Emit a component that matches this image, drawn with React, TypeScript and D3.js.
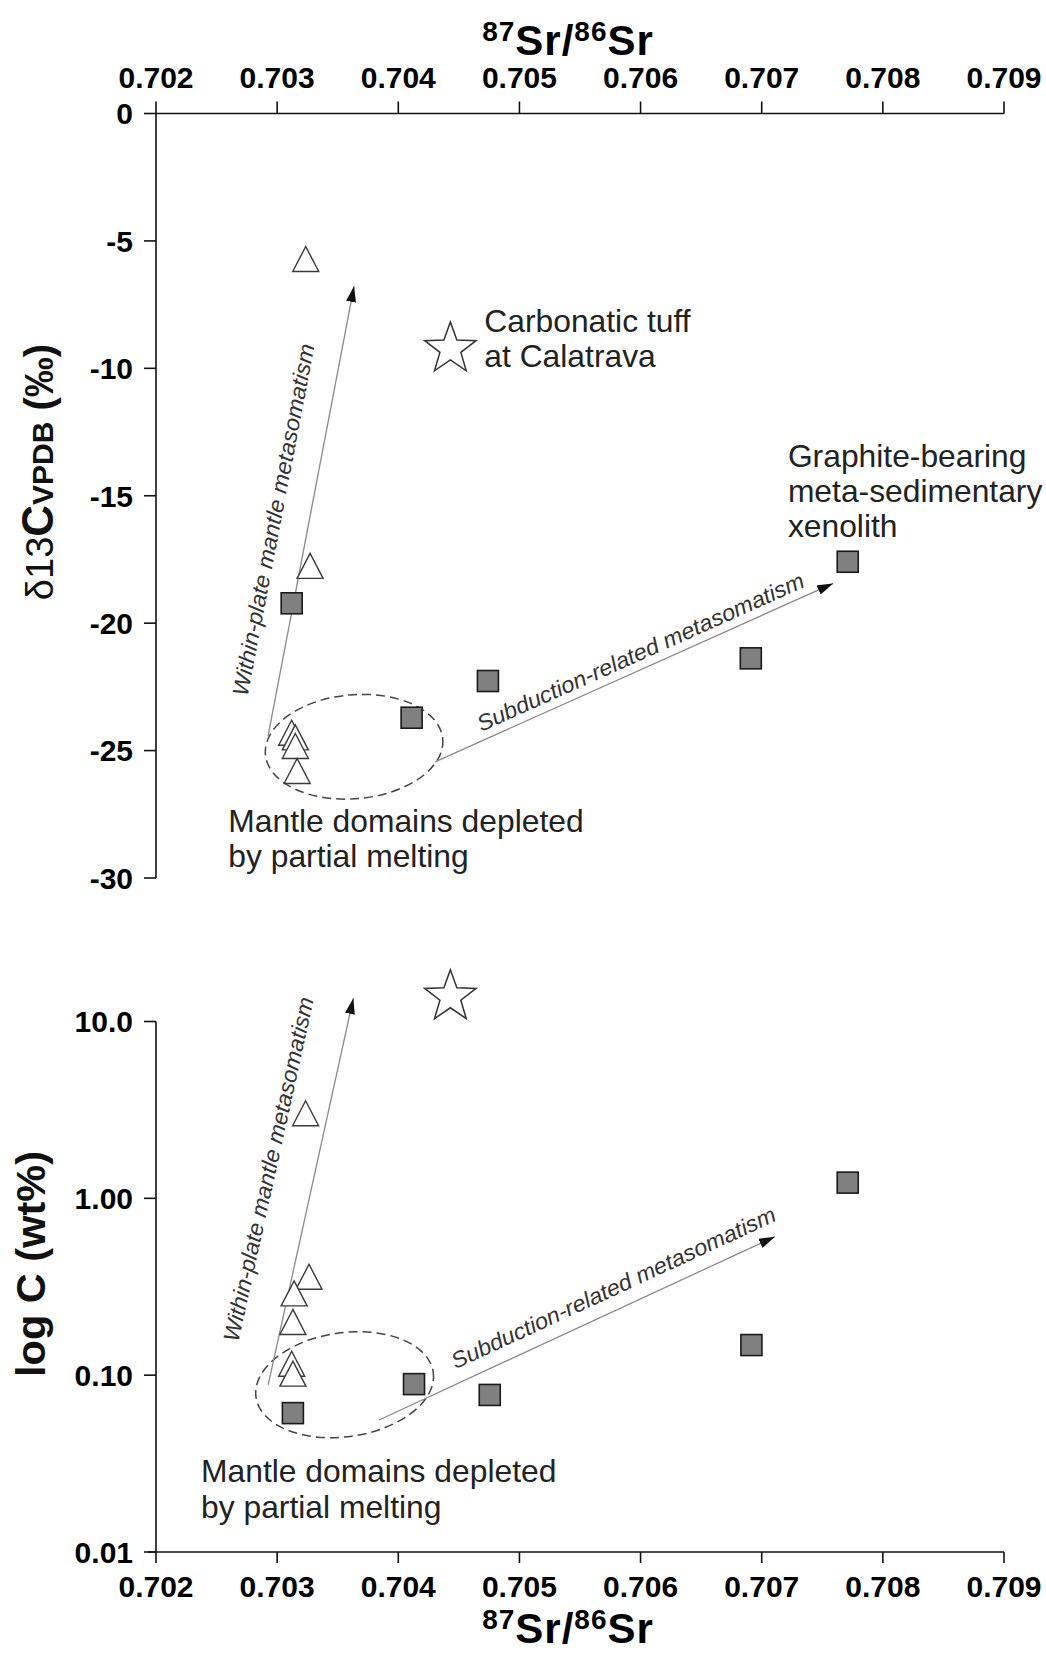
import React from 'react';
import * as d3 from 'd3';

const W = 1046;
const H = 1653;
const FONT = '"Liberation Sans", Arial, Helvetica, sans-serif';

// axis ticks
const srTicks = [0.702, 0.703, 0.704, 0.705, 0.706, 0.707, 0.708, 0.709];
const d13Ticks = [0, -5, -10, -15, -20, -25, -30];
const logTicks = [10, 1, 0.1, 0.01];
const logTickLabels = ['10.0', '1.00', '0.10', '0.01'];

// upper panel: d13C vs 87Sr/86Sr
const triSrTop = [0.703236, 0.703272, 0.70312, 0.70315, 0.70315, 0.703165];
const triD13 = [-5.71, -17.75, -24.3, -24.48, -24.82, -25.8];
const sqSrTop = [0.70312, 0.70411, 0.70474, 0.70691, 0.70771];
const sqD13 = [-19.22, -23.71, -22.27, -21.38, -17.59];

// lower panel: C wt% vs 87Sr/86Sr
const triSrBot = [0.703235, 0.703263, 0.70314, 0.70313, 0.70312, 0.70313];
const triC = [3.03, 0.36, 0.29, 0.2, 0.116, 0.102];
const sqSrBot = [0.70313, 0.70413, 0.704755, 0.706915, 0.70771];
const sqC = [0.061, 0.089, 0.0773, 0.148, 1.227];

// carbonatic tuff (star)
const starSr = 0.70443;
const starD13 = -9.24;
const starC = 13.8;

// trend arrows [x0, y0, x1, y1] in data units
const withinTop = [0.702925, -24.43, 0.703635, -6.77];
const subTop = [0.704304, -25.44, 0.70759, -18.44];
const withinBot = [0.702926, 0.0881, 0.703629, 13.55];
const subBot = [0.703841, 0.0558, 0.707109, 0.607];

// depleted-mantle ellipses [x, y] centres in data units
const ellTop = [0.703635, -24.85];
const ellBot = [0.703557, 0.0883];

const starPath = (R: number, r: number) => {
  const pts: string[] = [];
  for (let i = 0; i < 10; i++) {
    const a = -Math.PI / 2 + (i * Math.PI) / 5;
    const rad = i % 2 === 0 ? R : r;
    pts.push(`${(rad * Math.cos(a)).toFixed(2)},${(rad * Math.sin(a)).toFixed(2)}`);
  }
  return 'M' + pts.join('L') + 'Z';
};

const TRI = 'M0,-12.5L13,12.5L-13,12.5Z';
const NOTE = 31.8;

const App = () => {
  const x = d3.scaleLinear().domain([0.702, 0.709]).range([156, 1004]);
  const yTop = d3.scaleLinear().domain([-30, 0]).range([878, 113.5]);
  const yBot = d3.scaleLog().domain([0.01, 10]).range([1552, 1021.5]);

  const arrow = (a: number[], ys: (v: number) => number, key: string) => (
    <line
      key={key}
      x1={x(a[0])}
      y1={ys(a[1])}
      x2={x(a[2])}
      y2={ys(a[3])}
      stroke="#8a8a8a"
      strokeWidth={1.3}
      markerEnd="url(#head)"
    />
  );

  const angleOf = (a: number[], ys: (v: number) => number) =>
    (Math.atan2(ys(a[3]) - ys(a[1]), x(a[2]) - x(a[0])) * 180) / Math.PI;

  const slanted = (
    label: string,
    at: number[],
    a: number[],
    ys: (v: number) => number,
    len: number,
    key: string
  ) => (
    <text
      key={key}
      transform={`translate(${x(at[0])},${ys(at[1])}) rotate(${angleOf(a, ys)})`}
      textAnchor="middle"
      fontStyle="italic"
      fontSize={22.5}
      fill="#333"
      textLength={len}
      lengthAdjust="spacingAndGlyphs"
    >
      {label}
    </text>
  );

  const srTitle = (y: number) => (
    <text x={568} y={y} textAnchor="middle" fontWeight="bold" fontSize={42} letterSpacing={1}>
      <tspan fontSize={28} dy={-14}>87</tspan>
      <tspan dy={14}>Sr/</tspan>
      <tspan fontSize={28} dy={-14}>86</tspan>
      <tspan dy={14}>Sr</tspan>
    </text>
  );

  const star = starPath(27, 11);

  return (
    <svg
      width={W}
      height={H}
      style={{ position: 'absolute', left: 0, top: 0, background: '#fff' }}
      fontFamily={FONT}
    >
      <defs>
        <marker
          id="head"
          markerUnits="userSpaceOnUse"
          viewBox="0 0 16 10"
          markerWidth={16}
          markerHeight={10}
          refX={16}
          refY={5}
          orient="auto"
        >
          <path d="M0,0L16,5L0,10Z" fill="#111" />
        </marker>
      </defs>

      {/* ---------- UPPER PANEL ---------- */}
      {srTitle(55)}

      <line x1={x(0.702)} x2={x(0.709)} y1={yTop(0)} y2={yTop(0)} stroke="#111" strokeWidth={1.6} />
      {srTicks.map((t) => (
        <g key={'tt' + t}>
          <line x1={x(t)} x2={x(t)} y1={yTop(0)} y2={yTop(0) - 12} stroke="#111" strokeWidth={1.6} />
          <text x={x(t)} y={88} textAnchor="middle" fontWeight="bold" fontSize={30}>
            {t.toFixed(3)}
          </text>
        </g>
      ))}

      <line x1={x(0.702)} x2={x(0.702)} y1={yTop(0)} y2={yTop(-30)} stroke="#111" strokeWidth={1.6} />
      {d13Ticks.map((t) => (
        <g key={'yt' + t}>
          <line x1={x(0.702) - 12} x2={x(0.702)} y1={yTop(t)} y2={yTop(t)} stroke="#111" strokeWidth={1.6} />
          <text x={133} y={yTop(t)} dy="0.36em" textAnchor="end" fontWeight="bold" fontSize={30}>
            {t}
          </text>
        </g>
      ))}

      <text transform="translate(53,472) rotate(-90)" textAnchor="middle" fill="#111">
        <tspan fontSize={38}>δ13</tspan>
        <tspan fontSize={44} fontWeight="bold">C</tspan>
        <tspan fontSize={30} fontWeight="bold">VPDB</tspan>
        <tspan fontSize={40} fontWeight="bold"> (‰)</tspan>
      </text>

      <ellipse
        cx={x(ellTop[0])}
        cy={yTop(ellTop[1])}
        rx={89}
        ry={52}
        transform={`rotate(-5 ${x(ellTop[0])} ${yTop(ellTop[1])})`}
        fill="none"
        stroke="#444"
        strokeWidth={1.5}
        strokeDasharray="9 5"
      />
      {arrow(withinTop, yTop, 'a1')}
      {arrow(subTop, yTop, 'a2')}
      {slanted('Within-plate mantle metasomatism', [0.703032, -16.0], withinTop, yTop, 358, 's1')}
      {slanted('Subduction-related metasomatism', [0.706025, -21.41], subTop, yTop, 356, 's2')}

      {sqSrTop.map((s, i) => (
        <rect
          key={'sq' + i}
          x={x(s) - 10.5}
          y={yTop(sqD13[i]) - 10.5}
          width={21}
          height={21}
          fill="#808080"
          stroke="#1a1a1a"
          strokeWidth={1.6}
        />
      ))}
      {triSrTop.map((s, i) => (
        <path
          key={'tr' + i}
          d={TRI}
          transform={`translate(${x(s)},${yTop(triD13[i])})`}
          fill="#fff"
          stroke="#3a3a3a"
          strokeWidth={1.4}
        />
      ))}
      <path d={star} transform={`translate(${x(starSr)},${yTop(starD13)})`} fill="#fff" stroke="#333" strokeWidth={1.5} />

      <text x={x(0.70471)} y={yTop(-8.56)} fontSize={NOTE} fill="#222">
        <tspan x={x(0.70471)}>Carbonatic tuff</tspan>
        <tspan x={x(0.70471)} dy={35}>at Calatrava</tspan>
      </text>
      <text x={x(0.707216)} y={yTop(-13.86)} fontSize={NOTE} fill="#222">
        <tspan x={x(0.707216)}>Graphite-bearing</tspan>
        <tspan x={x(0.707216)} dy={35}>meta-sedimentary</tspan>
        <tspan x={x(0.707216)} dy={35}>xenolith</tspan>
      </text>
      <text x={x(0.702597)} y={yTop(-28.19)} fontSize={NOTE} fill="#222">
        <tspan x={x(0.702597)}>Mantle domains depleted</tspan>
        <tspan x={x(0.702597)} dy={35}>by partial melting</tspan>
      </text>

      {/* ---------- LOWER PANEL ---------- */}
      <line x1={x(0.702) - 8} x2={x(0.709)} y1={yBot(0.01)} y2={yBot(0.01)} stroke="#111" strokeWidth={1.6} />
      {srTicks.map((t) => (
        <g key={'bt' + t}>
          <line x1={x(t)} x2={x(t)} y1={yBot(0.01)} y2={yBot(0.01) + 11} stroke="#111" strokeWidth={1.6} />
          <text x={x(t)} y={1597} textAnchor="middle" fontWeight="bold" fontSize={30}>
            {t.toFixed(3)}
          </text>
        </g>
      ))}
      {srTitle(1643)}

      <line x1={x(0.702)} x2={x(0.702)} y1={yBot(10)} y2={yBot(0.01)} stroke="#111" strokeWidth={1.6} />
      {logTicks.map((t, i) => (
        <g key={'lt' + t}>
          <line x1={x(0.702) - 12} x2={x(0.702)} y1={yBot(t)} y2={yBot(t)} stroke="#111" strokeWidth={1.6} />
          <text x={133} y={yBot(t)} dy="0.36em" textAnchor="end" fontWeight="bold" fontSize={30}>
            {logTickLabels[i]}
          </text>
        </g>
      ))}
      <text
        transform="translate(45,1264) rotate(-90)"
        textAnchor="middle"
        fontWeight="bold"
        fontSize={41.5}
        fill="#111"
      >
        log C (wt%)
      </text>

      <ellipse
        cx={x(ellBot[0])}
        cy={yBot(ellBot[1])}
        rx={89.5}
        ry={52}
        transform={`rotate(-8 ${x(ellBot[0])} ${yBot(ellBot[1])})`}
        fill="none"
        stroke="#444"
        strokeWidth={1.5}
        strokeDasharray="9 5"
      />
      {arrow(withinBot, yBot, 'b1')}
      {arrow(subBot, yBot, 'b2')}
      {slanted('Within-plate mantle metasomatism', [0.702991, 1.43], withinBot, yBot, 352, 's3')}
      {slanted('Subduction-related metasomatism', [0.705802, 0.285], subBot, yBot, 355, 's4')}

      {sqSrBot.map((s, i) => (
        <rect
          key={'bsq' + i}
          x={x(s) - 10.5}
          y={yBot(sqC[i]) - 10.5}
          width={21}
          height={21}
          fill="#808080"
          stroke="#1a1a1a"
          strokeWidth={1.6}
        />
      ))}
      {triSrBot.map((s, i) => (
        <path
          key={'btr' + i}
          d={TRI}
          transform={`translate(${x(s)},${yBot(triC[i])})`}
          fill="#fff"
          stroke="#3a3a3a"
          strokeWidth={1.4}
        />
      ))}
      <path d={star} transform={`translate(${x(starSr)},${yBot(starC)})`} fill="#fff" stroke="#333" strokeWidth={1.5} />

      <text x={x(0.702372)} y={yBot(0.025)} fontSize={NOTE} fill="#222">
        <tspan x={x(0.702372)}>Mantle domains depleted</tspan>
        <tspan x={x(0.702372)} dy={36.5}>by partial melting</tspan>
      </text>
    </svg>
  );
};

export default App;
